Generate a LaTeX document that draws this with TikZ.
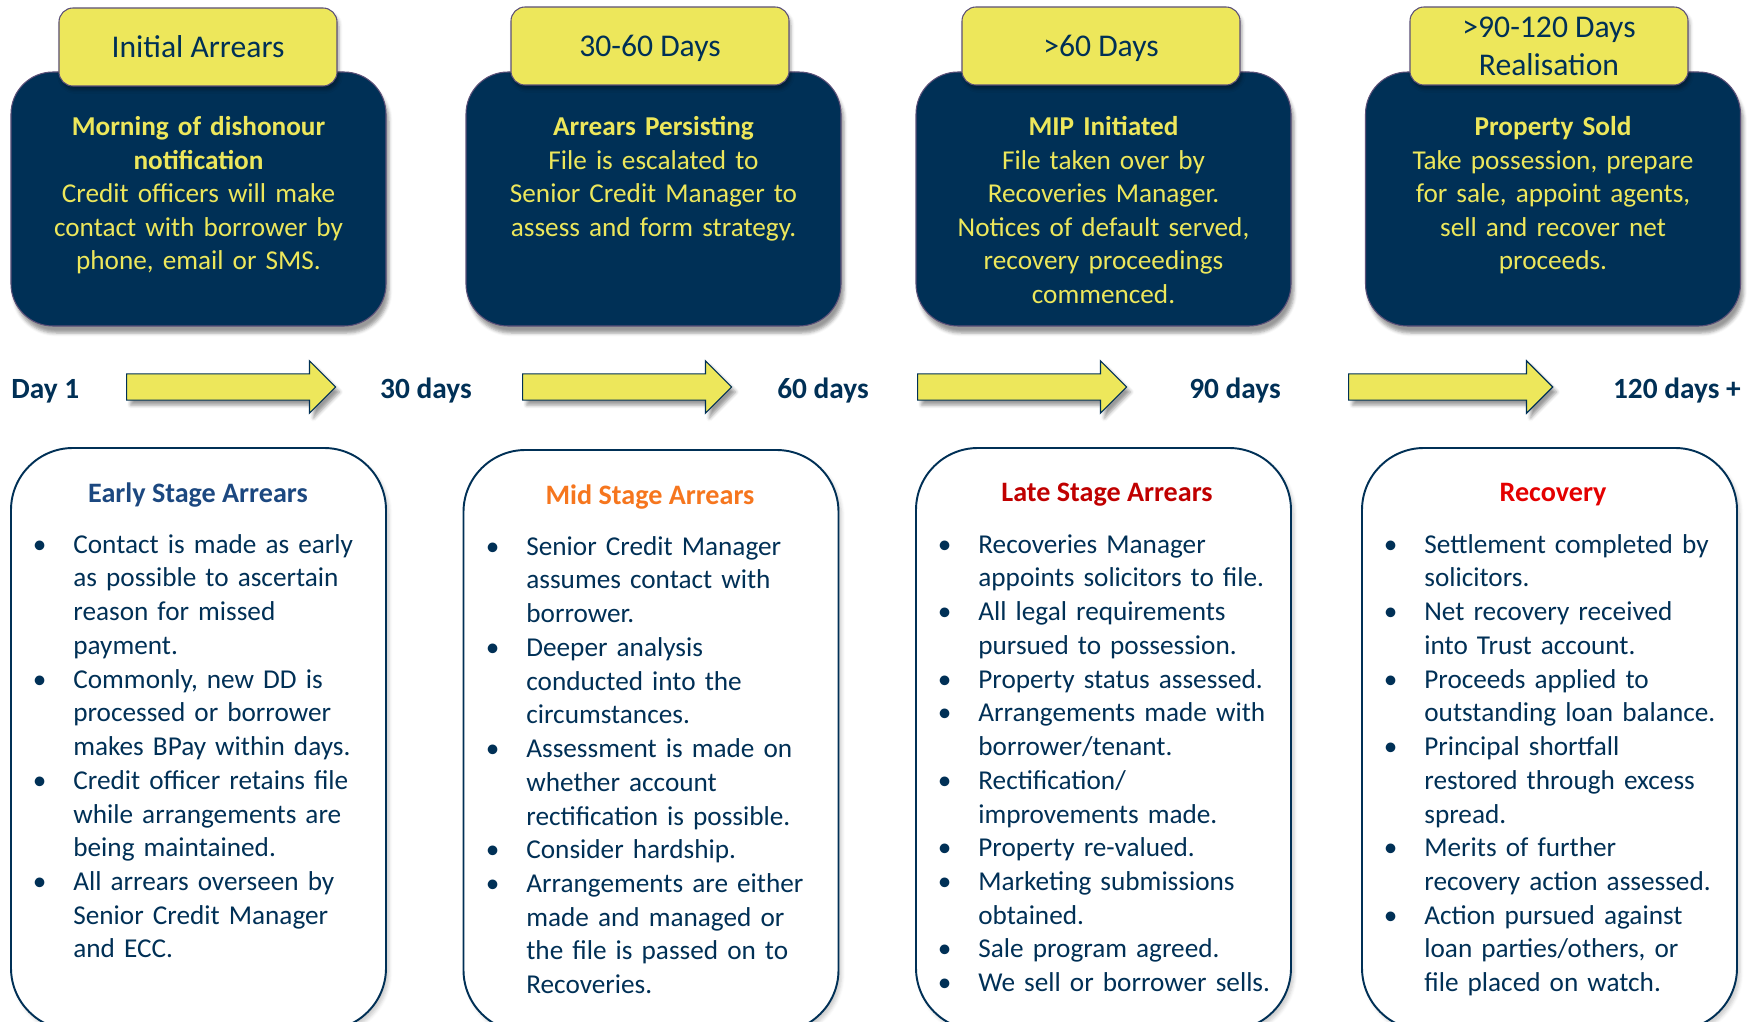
\documentclass[tikz,border=0pt]{standalone}
\usepackage{fontspec}
\setmainfont{Carlito}
\usepackage{enumitem}
\usetikzlibrary{shapes.arrows,shadows.blur}

\definecolor{navy}{RGB}{0,48,86}
\definecolor{tabyellow}{RGB}{237,231,91}
\definecolor{edgepurple}{RGB}{92,80,120}
\definecolor{earlyblue}{RGB}{28,72,128}
\definecolor{midorange}{RGB}{246,118,30}
\definecolor{latered}{RGB}{192,0,0}
\definecolor{recred}{RGB}{228,0,0}

\setlist[itemize]{label=\textbullet,leftmargin=8.4mm,labelsep=5.4mm,
  itemsep=0pt,parsep=0pt,topsep=0pt,partopsep=0pt}

\tikzset{
  phasebox/.style={draw=edgepurple,line width=0.6pt,fill=navy,
    minimum width=75mm,minimum height=50.8mm,rounded corners=8.4mm,
    blur shadow={shadow xshift=0.6mm,shadow yshift=-1.4mm,shadow opacity=40}},
  phasetext/.style={anchor=north,inner sep=0pt,text width=70mm,align=center,
    text=tabyellow,font=\fontsize{15.5}{19.1}\selectfont},
  tab/.style={draw=edgepurple,line width=0.6pt,fill=tabyellow,text=navy,
    minimum width=55.6mm,minimum height=15.6mm,rounded corners=2.8mm,
    align=center,text depth=0pt,font=\fontsize{18}{21.5}\selectfont,
    blur shadow={shadow xshift=0.4mm,shadow yshift=-0.8mm,shadow opacity=35}},
  stagearrow/.style={shape=single arrow,draw=navy,line width=0.7pt,fill=tabyellow,
    minimum height=41.8mm,inner xsep=0pt,inner ysep=2.5mm,anchor=tail,
    text height=0pt,text depth=0pt,single arrow head extend=2.6mm,
    blur shadow={shadow xshift=0.8mm,shadow yshift=-1.0mm,shadow opacity=40}},
  daylbl/.style={text=navy,inner sep=0pt,font=\fontsize{16.7}{19}\selectfont\bfseries},
  stagebox/.style={draw=navy,line width=1.1pt,fill=white,
    minimum width=75mm,minimum height=116.4mm,rounded corners=12.4mm,
    blur shadow={shadow xshift=0.6mm,shadow yshift=-0.8mm,shadow opacity=20}},
  stagetitle/.style={inner sep=0pt,font=\fontsize{16}{19}\selectfont\bfseries},
  stagelist/.style={anchor=north west,inner sep=0pt,text width=71mm,align=left,
    text=navy,font=\fontsize{15.5}{19.2}\selectfont}
}

\begin{document}
\begin{tikzpicture}[x=0.2mm,y=-0.2mm]
\useasboundingbox (0,0) rectangle (1748,1022);
\clip (0,0) rectangle (1748,1022);

% top row: dark phase boxes with the yellow tabs on them
\node[phasebox] (ph1) at (198.5,199) {};
\node[phasebox] (ph2) at (653.5,199) {};
\node[phasebox] (ph3) at (1103.5,199) {};
\node[phasebox] (ph4) at (1553,199) {};

\node[phasetext] (ph1t) at (198.5,116) {\textbf{Morning of dishonour\\notification}\\Credit officers will make\\contact with borrower by\\phone, email or SMS.};
\node[phasetext] (ph2t) at (653.5,116) {\textbf{Arrears Persisting}\\File is escalated to\\Senior Credit Manager to\\assess and form strategy.};
\node[phasetext] (ph3t) at (1103.5,116) {\textbf{MIP Initiated}\\File taken over by\\Recoveries Manager.\\Notices of default served,\\recovery proceedings\\commenced.};
\node[phasetext] (ph4t) at (1553,116) {\textbf{Property Sold}\\Take possession, prepare\\for sale, appoint agents,\\sell and recover net\\proceeds.};

\node[tab] (tab1) at (198,47) {Initial Arrears};
\node[tab] (tab2) at (650,46) {30-60 Days};
\node[tab] (tab3) at (1101,46) {>60 Days};
\node[tab] (tab4) at (1549,46) {>90-120 Days\\Realisation};

% middle row: day markers and arrows
\node[daylbl,anchor=west] (d1) at (11,391) {Day 1};
\node[daylbl] (d30) at (426,391) {30 days};
\node[daylbl] (d60) at (823,391) {60 days};
\node[daylbl] (d90) at (1235,391) {90 days};
\node[daylbl,anchor=east] (d120) at (1741,391) {120 days +};

\node[stagearrow] (ar1) at (126,387) {};
\node[stagearrow] (ar2) at (522,387) {};
\node[stagearrow] (ar3) at (917,387) {};
\node[stagearrow,minimum height=40.8mm] (ar4) at (1348,387) {};

% bottom row: stage boxes with bullet lists
\node[stagebox] (st1) at (198.5,739) {};
\node[stagebox] (st2) at (651,741) {};
\node[stagebox] (st3) at (1103.5,739) {};
\node[stagebox] (st4) at (1549.5,739) {};

\node[stagetitle,text=earlyblue] (st1t) at (198,495) {Early Stage Arrears};
\node[stagetitle,text=midorange] (st2t) at (650,497) {Mid Stage Arrears};
\node[stagetitle,text=latered] (st3t) at (1107,495) {Late Stage Arrears};
\node[stagetitle,text=recred] (st4t) at (1553,495) {Recovery};

\node[stagelist] (st1l) at (31,519) {\begin{itemize}
\item Contact is made as early\\as possible to ascertain\\reason for missed\\payment.
\item Commonly, new DD is\\processed or borrower\\makes BPay within days.
\item Credit officer retains file\\while arrangements are\\being maintained.
\item All arrears overseen by\\Senior Credit Manager\\and ECC.
\end{itemize}};
\node[stagelist] (st2l) at (484,521) {\begin{itemize}
\item Senior Credit Manager\\assumes contact with\\borrower.
\item Deeper analysis\\conducted into the\\circumstances.
\item Assessment is made on\\whether account\\rectification is possible.
\item Consider hardship.
\item Arrangements are either\\made and managed or\\the file is passed on to\\Recoveries.
\end{itemize}};
\node[stagelist] (st3l) at (936,519) {\begin{itemize}
\item Recoveries Manager\\appoints solicitors to file.
\item All legal requirements\\pursued to possession.
\item Property status assessed.
\item Arrangements made with\\borrower/tenant.
\item Rectification/\\improvements made.
\item Property re-valued.
\item Marketing submissions\\obtained.
\item Sale program agreed.
\item We sell or borrower sells.
\end{itemize}};
\node[stagelist] (st4l) at (1382,519) {\begin{itemize}
\item Settlement completed by\\solicitors.
\item Net recovery received\\into Trust account.
\item Proceeds applied to\\outstanding loan balance.
\item Principal shortfall\\restored through excess\\spread.
\item Merits of further\\recovery action assessed.
\item Action pursued against\\loan parties/others, or\\file placed on watch.
\end{itemize}};
\end{tikzpicture}
\end{document}
